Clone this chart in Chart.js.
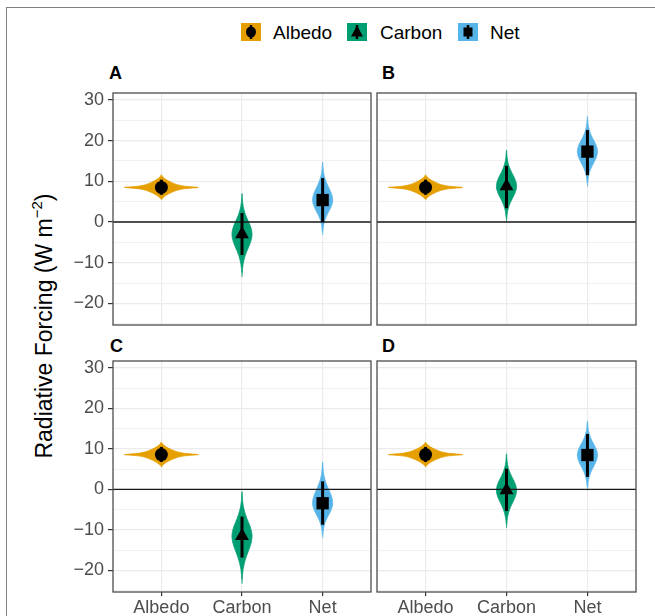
<!DOCTYPE html>
<html><head><meta charset="utf-8">
<script src="https://cdn.jsdelivr.net/npm/chart.js@4.4.1/dist/chart.umd.min.js"></script>
<style>
html,body{margin:0;padding:0;background:#fff}
body{width:655px;height:616px;overflow:hidden;position:relative;font-family:"Liberation Sans",Arial,sans-serif}
.frame{position:absolute;left:6px;top:7px;width:900px;height:900px;border:1.5px solid #808080}
canvas{position:absolute}
.plab{position:absolute;font-weight:bold;font-size:18px;line-height:18px;color:#000}
.key{position:absolute;width:20px;height:18px}
.ltxt{position:absolute;font-size:19px;line-height:18px;color:#000;white-space:nowrap}
.ytitle{position:absolute;left:44px;top:326px;transform:translate(-50%,-50%) rotate(-90deg);font-size:23px;line-height:26px;white-space:nowrap;color:#000}
.ytitle sup{font-size:15px;line-height:0;vertical-align:10px}
</style></head>
<body>
<div class="frame"></div>

<svg class="key" style="left:241px;top:23px" viewBox="0 0 20 18"><rect width="20" height="18" fill="#E69F00"/><line x1="10" y1="2" x2="10" y2="16" stroke="#000" stroke-width="2.5"/><ellipse cx="10" cy="9" rx="5" ry="5.5" fill="#000"/></svg>
<div class="ltxt" style="left:273px;top:24px">Albedo</div>
<svg class="key" style="left:347px;top:23px" viewBox="0 0 20 18"><rect width="20" height="18" fill="#009E73"/><line x1="10" y1="2" x2="10" y2="16" stroke="#000" stroke-width="2.5"/><polygon points="10,2.5 16,13.5 4,13.5" fill="#000"/></svg>
<div class="ltxt" style="left:380px;top:24px">Carbon</div>
<svg class="key" style="left:458px;top:23px" viewBox="0 0 20 18"><rect width="20" height="18" fill="#56B4E9"/><line x1="10" y1="2" x2="10" y2="16" stroke="#000" stroke-width="2.5"/><rect x="5.5" y="4.5" width="9" height="9" fill="#000"/></svg>
<div class="ltxt" style="left:490px;top:24px">Net</div>

<div class="plab" style="left:109px;top:64px">A</div>
<div class="plab" style="left:382px;top:64px">B</div>
<div class="plab" style="left:110px;top:337px">C</div>
<div class="plab" style="left:382px;top:337px">D</div>

<div class="ytitle">Radiative Forcing (W m<sup>−2</sup>)</div>

<canvas id="cA"></canvas>
<canvas id="cB"></canvas>
<canvas id="cC"></canvas>
<canvas id="cD"></canvas>

<script>
// ---------- data ----------
const categories = ['Albedo', 'Carbon', 'Net'];
const panelNames = ['A', 'B', 'C', 'D'];
const yTickValues = [-20, -10, 0, 10, 20, 30];
const yTickLabels = ['−20', '−10', '0', '10', '20', '30'];
const yMinorValues = [-25, -15, -5, 5, 15, 25];
const yMin = -25.3, yMax = 31.7;
const zeroLine = 0;

// medians (Albedo, Carbon, Net)
const medianA = [8.5, -3.0, 5.4];
const medianB = [8.5, 8.8, 17.3];
const medianC = [8.6, -11.5, -3.4];
const medianD = [8.6, -0.2, 8.5];
// error bar low / high
const errLowA = [6.7, -8.1, 0.0],   errHighA = [10.4, 2.2, 10.8];
const errLowB = [6.7, 3.4, 11.5],   errHighB = [10.4, 13.8, 22.6];
const errLowC = [6.8, -16.8, -8.7], errHighC = [10.5, -6.7, 2.0];
const errLowD = [6.8, -5.3, 3.1],   errHighD = [10.5, 5.1, 13.7];
// violin tail ends
const tailLowA = [5.4, -13.5, -3.2],  tailHighA = [11.6, 7.0, 14.7];
const tailLowB = [5.4, 0.0, 8.7],     tailHighB = [11.6, 17.7, 25.9];
const tailLowC = [5.5, -23.3, -12.0], tailHighC = [11.7, -0.5, 6.8];
const tailLowD = [5.5, -9.5, -0.2],   tailHighD = [11.7, 8.8, 16.9];
// violin max half width (category units) and relative density profiles (center -> tail)
const violinHalfWidth = [0.46, 0.125, 0.125];
const albedoProfile = [1, 0.62, 0.45, 0.35, 0.27, 0.2, 0.14, 0.09, 0.05, 0.02, 0];
const gaussProfile  = [1, 0.95, 0.83, 0.66, 0.48, 0.32, 0.2, 0.11, 0.06, 0.03, 0];

const medians = [medianA, medianB, medianC, medianD];
const errLows = [errLowA, errLowB, errLowC, errLowD];
const errHighs = [errHighA, errHighB, errHighC, errHighD];
const tailLows = [tailLowA, tailLowB, tailLowC, tailLowD];
const tailHighs = [tailHighA, tailHighB, tailHighC, tailHighD];

// ---------- styles / layout ----------
const colors = ['#E69F00', '#009E73', '#56B4E9'];
const shapes = ['circle', 'triangle', 'rect'];
const radii = [6.5, 8, 8.7];
const FONT = '"Liberation Sans", Arial, sans-serif';
Chart.defaults.font.family = FONT;

const layouts = {
  A: {canvas: [40, 85, 340, 245],  area: [113, 93, 371, 325], showY: true,  showX: false},
  B: {canvas: [372, 85, 283, 245], area: [377, 93, 636, 325], showY: false, showX: false},
  C: {canvas: [40, 353, 340, 263], area: [113, 361, 371, 592], showY: true,  showX: true},
  D: {canvas: [372, 353, 283, 263], area: [377, 361, 636, 592], showY: false, showX: true}
};

function violinPoints(c, med, lo, hi, hw, profile) {
  const n = profile.length;
  const right = [];
  for (let i = n - 1; i >= 0; i--) right.push({x: c + hw * profile[i], y: med - (med - lo) * i / (n - 1)});
  for (let i = 1; i < n; i++) right.push({x: c + hw * profile[i], y: med + (hi - med) * i / (n - 1)});
  const pts = right.slice();
  for (let k = right.length - 2; k >= 1; k--) pts.push({x: 2 * c - right[k].x, y: right[k].y});
  return pts;
}

function zeroPad(s) { s.paddingLeft = 0; s.paddingRight = 0; s.paddingTop = 0; s.paddingBottom = 0; }

const framePlugin = {
  id: 'panelFrame',
  afterDraw(chart) {
    const {ctx, chartArea: a} = chart;
    ctx.save();
    ctx.strokeStyle = '#4D4D4D';
    ctx.lineWidth = 1.3;
    ctx.strokeRect(a.left, a.top, a.right - a.left, a.bottom - a.top);
    ctx.restore();
  }
};

function makePanel(name, idx) {
  const lay = layouts[name];
  const [cl, ct, cw, ch] = lay.canvas;
  const [al, at, ar, ab] = lay.area;
  const cv = document.getElementById('c' + name);
  cv.width = cw; cv.height = ch;
  cv.style.left = cl + 'px'; cv.style.top = ct + 'px';
  cv.style.width = cw + 'px'; cv.style.height = ch + 'px';

  const yW = al - cl, padTop = at - ct, padRight = (cl + cw) - ar, bottomH = (ct + ch) - ab;

  const datasets = [];
  categories.forEach((cat, i) => {
    const c = i + 1;
    datasets.push({
      label: cat + ' violin',
      data: violinPoints(c, medians[idx][i], tailLows[idx][i], tailHighs[idx][i], violinHalfWidth[i], i === 0 ? albedoProfile : gaussProfile),
      showLine: true, fill: 'shape', backgroundColor: colors[i], borderColor: colors[i],
      borderWidth: 0.8, pointRadius: 0, tension: 0.15, order: 3
    });
    datasets.push({
      label: cat + ' interval',
      data: [{x: c, y: errLows[idx][i]}, {x: c, y: errHighs[idx][i]}],
      showLine: true, borderColor: '#000', borderWidth: 3, pointRadius: 0, order: 1
    });
    datasets.push({
      label: cat,
      data: [{x: c, y: medians[idx][i]}],
      pointStyle: shapes[i], pointRadius: radii[i], pointBackgroundColor: '#000',
      backgroundColor: '#000', pointBorderWidth: 0, borderWidth: 0, order: 0
    });
  });
  datasets.push({
    label: 'zero',
    data: [{x: 0.4, y: zeroLine}, {x: 3.6, y: zeroLine}],
    showLine: true, borderColor: '#1A1A1A', borderWidth: 1.3, pointRadius: 0, order: 2
  });

  const yAll = yTickValues.concat(yMinorValues).sort((a, b) => a - b);

  new Chart(cv, {
    type: 'scatter',
    data: {datasets},
    options: {
      responsive: false, animation: false, devicePixelRatio: 1, events: [],
      layout: {autoPadding: false, padding: {top: padTop, right: padRight, left: 0, bottom: 0}},
      plugins: {legend: {display: false}, tooltip: {enabled: false}, title: {display: false}},
      scales: {
        x: {
          type: 'linear', position: 'bottom', min: 0.4, max: 3.6,
          afterBuildTicks: s => { s.ticks = categories.map((_, i) => ({value: i + 1})); },
          afterFit: s => { s.height = bottomH; zeroPad(s); },
          ticks: {display: lay.showX, autoSkip: false, maxRotation: 0, minRotation: 0, padding: 1,
                  font: {size: 18, family: FONT}, color: '#4D4D4D',
                  callback: v => categories[Math.round(v) - 1] || ''},
          grid: {color: '#EBEBEB', lineWidth: 1.2, drawTicks: lay.showX, tickLength: lay.showX ? 4 : 0,
                 tickColor: '#333333', tickWidth: 1.2},
          border: {display: false}
        },
        y: {
          type: 'linear', position: 'left', min: yMin, max: yMax,
          afterBuildTicks: s => { s.ticks = yAll.map(v => ({value: v})); },
          afterFit: s => { s.width = yW; zeroPad(s); },
          ticks: {display: lay.showY, autoSkip: false, padding: 4,
                  font: {size: 18, family: FONT}, color: '#4D4D4D',
                  callback: v => { const k = yTickValues.indexOf(v); return k >= 0 ? yTickLabels[k] : ''; }},
          grid: {
            color: '#EBEBEB',
            lineWidth: ctx => (ctx.tick && yTickValues.indexOf(ctx.tick.value) >= 0) ? 1.2 : 0.7,
            drawTicks: lay.showY, tickLength: lay.showY ? 5 : 0,
            tickColor: ctx => (ctx.tick && yTickValues.indexOf(ctx.tick.value) >= 0) ? '#333333' : 'rgba(0,0,0,0)',
            tickWidth: 1.2
          },
          border: {display: false}
        }
      }
    },
    plugins: [framePlugin]
  });
}

panelNames.forEach((n, i) => makePanel(n, i));
</script>
</body></html>
